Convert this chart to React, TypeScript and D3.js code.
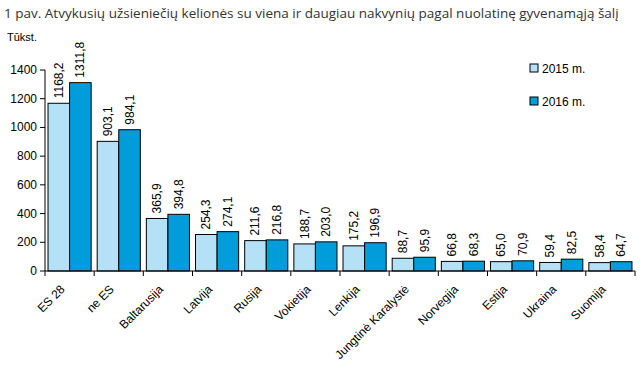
import React from "react";
import * as d3 from "d3";

const categories = ["ES 28", "ne ES", "Baltarusija", "Latvija", "Rusija", "Vokietija", "Lenkija", "Jungtinė Karalystė", "Norvegija", "Estija", "Ukraina", "Suomija"];
const values2015 = [1168.2, 903.1, 365.9, 254.3, 211.6, 188.7, 175.2, 88.7, 66.8, 65.0, 59.4, 58.4];
const values2016 = [1311.8, 984.1, 394.8, 274.1, 216.8, 203.0, 196.9, 95.9, 68.3, 70.9, 82.5, 64.7];
const seriesNames = ["2015 m.", "2016 m."];
const yTicks = [0, 200, 400, 600, 800, 1000, 1200, 1400];
const title = "1 pav. Atvykusių užsieniečių kelionės su viena ir daugiau nakvynių pagal nuolatinę gyvenamąją šalį";
const unitLabel = "Tūkst.";

const colors = ["#b5e1f6", "#009ddb"];
const font = "'Liberation Sans', Arial, sans-serif";

export default function App() {
  const W = 643, H = 366;
  const x0 = 45, x1 = 635, yBase = 271, yTop = 70;
  const x = d3.scaleBand<string>().domain(categories).range([x0, x1]).paddingInner(0).paddingOuter(0);
  const y = d3.scaleLinear().domain([0, 1400]).range([yBase, yTop]);
  const inner = d3.scaleBand<string>().domain(["a", "b"]).range([0, x.bandwidth()]).paddingOuter(0.14).paddingInner(0);
  const fmt = (v: number) => v.toFixed(1).replace(".", ",");
  const series = [values2015, values2016];
  const bounds = d3.range(categories.length + 1).map(i => x0 + i * x.bandwidth());

  return (
    <svg width={W} height={H} style={{ position: "absolute", left: 0, top: 0, background: "#fff" }}>
      <text x={4} y={18} fontFamily="'Open Sans', sans-serif" fontSize={13.5} fill="#333">{title}</text>
      <text x={7} y={41} fontFamily={font} fontSize={11} fill="#000">{unitLabel}</text>
      {series.map((vals, si) =>
        vals.map((v, i) => {
          const bx = (x(categories[i]) as number) + (inner(si === 0 ? "a" : "b") as number);
          const bw = inner.bandwidth();
          return (
            <g key={`${si}-${i}`}>
              <rect x={bx} y={y(v)} width={bw} height={yBase - y(v)} fill={colors[si]} stroke="#000" strokeWidth={1} />
              <text transform={`translate(${bx + bw / 2 + 4},${y(v) - 5}) rotate(-90)`} fontFamily={font} fontSize={12} fill="#000">{fmt(v)}</text>
            </g>
          );
        })
      )}
      <line x1={x0} x2={x0} y1={yTop} y2={yBase} stroke="#000" />
      {yTicks.map(t => (
        <g key={t}>
          <line x1={x0 - 5} x2={x0} y1={y(t)} y2={y(t)} stroke="#000" />
          <text x={x0 - 8} y={y(t) + 4} textAnchor="end" fontFamily={font} fontSize={12} fill="#000">{t}</text>
        </g>
      ))}
      <line x1={x0} x2={x1} y1={yBase} y2={yBase} stroke="#000" />
      {bounds.map((b, i) => (
        <line key={i} x1={b} x2={b} y1={yBase} y2={yBase + 5} stroke="#000" />
      ))}
      {categories.map(c => {
        const cx = (x(c) as number) + x.bandwidth() / 2;
        return (
          <text key={c} transform={`translate(${cx - 4},${yBase + 19}) rotate(-45)`} textAnchor="end" fontFamily={font} fontSize={12} fill="#000">{c}</text>
        );
      })}
      {seriesNames.map((s, i) => (
        <g key={s} transform={`translate(530,${64 + i * 33})`}>
          <rect x={0} y={0} width={8} height={8} fill={colors[i]} stroke="#000" />
          <text x={12} y={9} fontFamily={font} fontSize={12} fill="#000">{s}</text>
        </g>
      ))}
    </svg>
  );
}
